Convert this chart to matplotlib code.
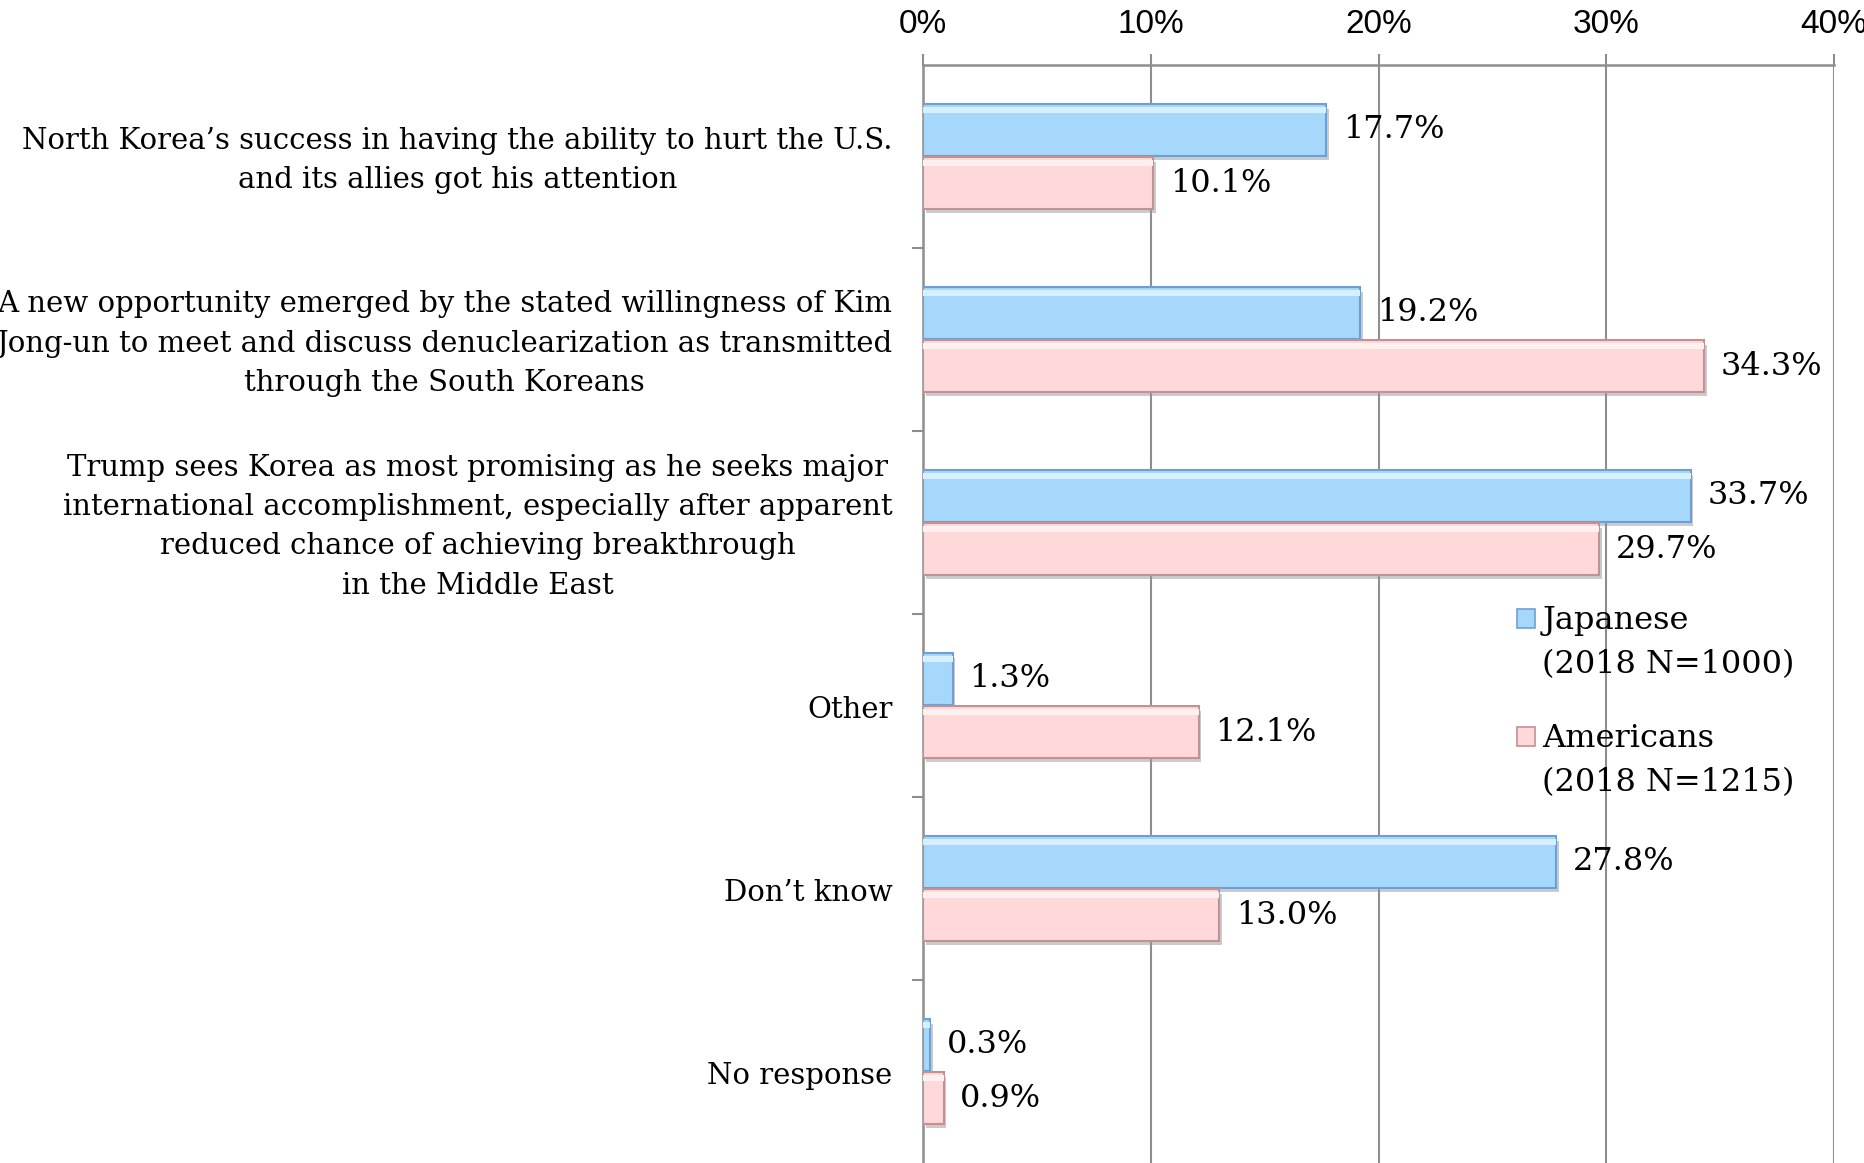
import matplotlib
matplotlib.use('Agg')
import matplotlib.pyplot as plt
import matplotlib.patheffects as pe
from matplotlib.patches import Rectangle
import numpy as np

# survey data (percent)
categories = [
    "North Korea\u2019s success in having the ability to hurt the U.S.\nand its allies got his attention",
    "A new opportunity emerged by the stated willingness of Kim\nJong-un to meet and discuss denuclearization as transmitted\nthrough the South Koreans",
    "Trump sees Korea as most promising as he seeks major\ninternational accomplishment, especially after apparent\nreduced chance of achieving breakthrough\nin the Middle East",
    "Other",
    "Don\u2019t know",
    "No response",
]
japanese = [17.7, 19.2, 33.7, 1.3, 27.8, 0.3]
americans = [10.1, 34.3, 29.7, 12.1, 13.0, 0.9]
series_names = ["Japanese\n(2018 N=1000)", "Americans\n(2018 N=1215)"]
xticks = [0, 10, 20, 30, 40]

blue_face, blue_edge, blue_hi = '#A6D8FB', '#6F9FD2', '#D6F0FF'
pink_face, pink_edge, pink_hi = '#FFD8D9', '#C39093', '#FFF0F0'
grid_col = '#8E8E8E'
serif = 'DejaVu Serif'

fig = plt.figure(figsize=(18.64, 11.63), dpi=100)
ax = fig.add_axes([0.4952, 0.0, 0.4887, 0.9441])

y = np.arange(len(categories))
bh = 0.28
off = 0.145
shadow = [pe.SimplePatchShadow(offset=(2, -3), shadow_rgbFace='#999999', alpha=0.5), pe.Normal()]

b1 = ax.barh(y - off, japanese, height=bh, color=blue_face, edgecolor=blue_edge, linewidth=1.5, zorder=3)
b2 = ax.barh(y + off, americans, height=bh, color=pink_face, edgecolor=pink_edge, linewidth=1.5, zorder=3)
for b in list(b1) + list(b2):
    b.set_path_effects(shadow)
# bevel highlight along the top of each bar
ax.barh(y - off - bh / 2 + 0.03, japanese, height=0.035, color=blue_hi, linewidth=0, zorder=4)
ax.barh(y + off - bh / 2 + 0.03, americans, height=0.035, color=pink_hi, linewidth=0, zorder=4)

for i in range(len(categories)):
    ax.annotate(f"{japanese[i]:.1f}%", (japanese[i], y[i] - off), xytext=(12, 0),
                textcoords='offset points', va='center', ha='left', fontsize=23, family=serif)
    ax.annotate(f"{americans[i]:.1f}%", (americans[i], y[i] + off), xytext=(12, 0),
                textcoords='offset points', va='center', ha='left', fontsize=23, family=serif)
    # category label left of the axis
    ax.annotate(categories[i], (0, y[i]), xycoords=('axes fraction', 'data'), xytext=(-22, -3),
                textcoords='offset points', ha='right', va='center', multialignment='center',
                fontsize=21, family=serif, linespacing=1.52, annotation_clip=False)

ax.set_xlim(0, 40)
ax.set_ylim(len(categories) - 0.5, -0.5)
ax.xaxis.tick_top()
ax.set_xticks(xticks)
ax.set_xticklabels([f"{t}%" for t in xticks], family=['Liberation Sans Narrow', 'Liberation Sans'], fontsize=24)
ax.tick_params(axis='x', length=8, width=1.5, color=grid_col, pad=10)
ax.grid(axis='x', color=grid_col, linewidth=1.5, zorder=0)

ax.set_yticks(y[:-1] + 0.5)
ax.set_yticklabels([])
ax.tick_params(axis='y', length=8, width=1.5, color=grid_col)

for s in ['right', 'bottom']:
    ax.spines[s].set_visible(False)
for s in ['left', 'top']:
    ax.spines[s].set_color(grid_col)
    ax.spines[s].set_linewidth(1.8)

# legend
leg_items = [(series_names[0], blue_face, blue_edge, 0.4686), (series_names[1], pink_face, pink_edge, 0.367)]
for name, fc, ec, ty in leg_items:
    fig.patches.append(Rectangle((0.8137, ty - 0.0082), 0.0098, 0.0160, transform=fig.transFigure,
                                 facecolor=fc, edgecolor=ec, linewidth=1.2, zorder=5))
    fig.text(0.8275, ty + 0.0115, name, family=serif, fontsize=23, va='top', ha='left', linespacing=1.55)

fig.savefig('out.png', dpi=100)
